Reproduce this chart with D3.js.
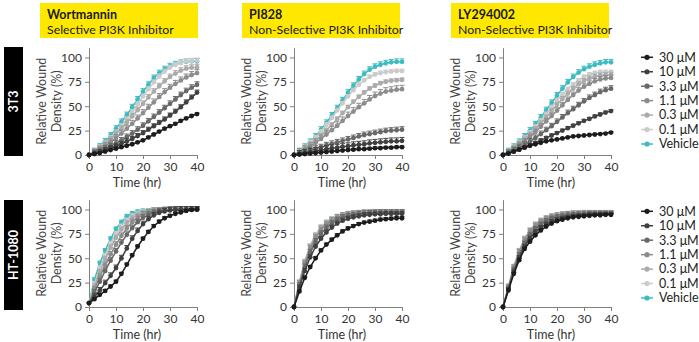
<!DOCTYPE html>
<html>
<head>
<meta charset="utf-8">
<script src="https://cdn.jsdelivr.net/npm/d3@7"></script>
<style>
body { margin: 0; background: #fff; }
svg { display: block; font-family: Lato, "Noto Sans", sans-serif; }
</style>
</head>
<body>
<div id="chart"></div>
<script>
var times = [0,2,4,6,8,10,12,14,16,18,20,22,24,26,28,30,32,34,36,38,40];
var doses = ["30 \u03bcM","10 \u03bcM","3.3 \u03bcM","1.1 \u03bcM","0.3 \u03bcM","0.1 \u03bcM","Vehicle"];
var doseColors = ["#1c1c1c","#404040","#686868","#8c8c8c","#ababab","#cbcbcb","#3cbcbf"];
var drugs = ["Wortmannin","PI828","LY294002"];
var drugClass = ["Selective PI3K Inhibitor","Non-Selective PI3K Inhibitor","Non-Selective PI3K Inhibitor"];
var cellLines = ["3T3","HT-1080"];
var xTicks = [0,10,20,30,40];
var yTicks = [0,25,50,75,100];

// relative wound density (%), one row per dose in legend order
var wort3T3 = [
  [0,1,2,3.5,5,6.5,8,9.5,11,13,15,18,21,24,27,29.5,32,35,37.5,40,42],
  [0,1.5,3,5,7,9,11.5,14,16.5,19.5,22.5,26,29.5,33,36.5,40.5,44.5,49,54,59,64],
  [0,2,4,6.5,9,12,15,18.5,22,26,30,34.5,39,43.5,48,52.5,57,61.5,65.5,69,72],
  [0,2.5,5.5,9,13,17.5,22,27,32,37.5,43,48.5,54,59.5,64.5,69,73,76.5,79.5,82,84],
  [0,3,7,11.5,16,21.5,27,33,39.5,46,52.5,59,65,70.5,75.5,80,83.5,86.5,88.5,89.5,90],
  [0,3.5,8,12.5,17.5,23,29.5,36.5,44,52,60,67.5,74.5,80.5,85.5,89.5,92.5,94.5,96,96.5,97],
  [0,4,9,14,20,27,34,41,49,57,65,72,79,84,88,91,93,94.5,95.5,96,96]
];
var pi828_3T3 = [
  [0,0.5,1,1.5,2,2.5,3,3.5,4,4.5,5,5.5,6,6,6.5,7,7,7.5,7.5,8,8],
  [0,1,2,3,4,5,6,7,7.5,8.5,9,10,10.5,11,12,12.5,13,13.5,14,14,14.5],
  [0,1.5,3,5,6.5,8,10,11.5,13,14.5,16,17.5,19,20.5,21.5,22.5,23.5,24.5,25,25.5,26],
  [0,2.5,5.5,9,12.5,16.5,21,25.5,30,35,40,44.5,49,53,57,60.5,63,65,66,67,67.5],
  [0,3,6.5,10.5,15,20,25.5,31,37,43,49,54.5,59.5,64,68,71,73.5,75,76,76.5,77],
  [0,3.5,8,13,18,24,31,38,45.5,53,60,66.5,72,76.5,80,82.5,84,85,85.5,86,86],
  [0,4,8.5,13.5,19,26,33,40.5,48,56,64,71,77.5,83,87.5,90.5,92.5,94,95,95.5,95.5]
];
var ly_3T3 = [
  [0,1.5,3.5,5.5,7.5,9.5,11,12.5,14,15,16,17,18,19,19.5,20,20.5,21,21.5,22,23],
  [0,1.5,3.5,5.5,8,10,12.5,15,17.5,20,22.5,25,27.5,30,32.5,35,37,39.5,41.5,43.5,45],
  [0,2,4.5,7.5,10.5,14,17.5,21.5,25.5,29.5,34,38.5,43,47,51,55,58.5,61.5,64.5,66.5,68],
  [0,2.5,6,10,14,18.5,23.5,29,34.5,40,45.5,51,56.5,61.5,66,70,73,75.5,77.5,78.5,79],
  [0,3,7,11.5,16,21,26.5,32.5,38.5,45,51.5,57.5,63,68,72.5,76,78.5,80.5,81.5,82,82.5],
  [0,3.5,8,12.5,17.5,23,29,35.5,42,49,56,62,67.5,72.5,76.5,80,82.5,84,85,85,85],
  [0,4,8.5,13.5,19,25,31.5,38.5,46,53.5,61,68,74.5,80,84.5,88,90.5,92.5,94,95,95]
];
var wortHT = [
  [4,8,12.5,16.5,21,26,34,43.5,53,62,70,77,83,87.5,91,93.5,95.5,97,98.5,99.5,100],
  [4,10.5,17,24.5,32,40,50,60,70,78,85,90,94,96.5,98,99,99.5,100,100,100,100],
  [4,15,26,37,47.5,57,66,74,81,87,91.5,94.5,96.5,98,99,99.5,100,100,100,100,100],
  [4,18,31,43,54,64,73,80.5,87,91.5,95,97,98.5,99,99.5,100,100,100,100,100,100],
  [4,21,36,49,61,71,79.5,86,91,94.5,96.5,98,99,99.5,99.5,100,100,100,100,100,100],
  [4,24,40,53,65,75,83,89,93.5,96,97.5,98.5,99,99.5,99.5,100,100,100,100,100,100],
  [4,28,45,58,70,80,87,93,96,97.5,98.5,99,99.5,99.5,100,100,100,100,100,100,100]
];
var pi828HT = [
  [0,16,30,41,50,58,64,69,73.5,77.5,80.5,83,85,86.5,87.5,88.5,89.5,90,90.5,91,91],
  [0,20,37,51,62,70,76.5,81.5,85.5,88.5,90.5,92,93,94,94.5,95,95,95.5,95.5,95.5,95.5],
  [0,22,41,56,67,75,81,85.5,89,91.5,93,94,95,95.5,96,96,96.5,96.5,96.5,96.5,96.5],
  [0,24,44,60,71,79,84.5,88.5,91.5,93.5,95,95.5,96,96.5,96.5,97,97,97,97,97,97],
  [0,25,46,62,73,81,86,89.5,92,94,95,96,96.5,97,97,97,97,97,97,97,97],
  [0,26,47,63,74.5,82,87,90.5,93,94.5,95.5,96,96.5,97,97,97,97,97,97,97,97],
  [0,25,46,62.5,74,82,87,90.5,93,94.5,95.5,96,96.5,96.5,97,97,97,97,97,97,97]
];
var lyHT = [
  [0,17,34,48,59.5,67,73.5,78.5,82.5,85.5,88,89.5,91,92,92.5,93,93.5,94,94,94.5,94.5],
  [0,18,36,50.5,62,70.5,77,81.5,85,87.5,89.5,91,92,93,93.5,94,94.5,94.5,95,95,95],
  [0,19,38,53,65,73.5,80,84.5,88,90.5,92,93,94,94.5,95,95,95.5,95.5,95.5,95.5,95.5],
  [0,20,40,56,68,77,83,87,90,92,93.5,94.5,95,95.5,95.5,96,96,96,96,96,96],
  [0,21,41,57.5,70,78.5,84.5,88.5,91,93,94,95,95.5,96,96,96,96,96,96,96,96],
  [0,21.5,42,58,70.5,79,85,89,91.5,93,94,95,95.5,96,96,96,96,96,96,96,96],
  [0,19,37,51,64,74,81.5,86.5,90,92,93.5,94.5,95,95.5,95.5,96,96,96,96,96,96]
];

// SEM per dose (upper error bar only)
var wort3T3Sem = [1, 2.5, 3, 3.5, 3, 2.5, 3];
var pi828_3T3Sem = [1, 3.5, 3, 4, 2, 2, 3];
var ly_3T3Sem = [0.8, 1.5, 3, 3, 2.5, 2, 3];
var wortHTSem = [1.5, 3, 3, 3, 2.5, 2, 2];
var pi828HTSem = [1.5, 2.5, 3, 3, 2.5, 2, 2];
var lyHTSem = [1.5, 2, 2.5, 3, 2.5, 2, 2];

var panels = [
  { row: 0, col: 0, data: wort3T3, sem: wort3T3Sem },
  { row: 0, col: 1, data: pi828_3T3, sem: pi828_3T3Sem },
  { row: 0, col: 2, data: ly_3T3, sem: ly_3T3Sem },
  { row: 1, col: 0, data: wortHT, sem: wortHTSem },
  { row: 1, col: 1, data: pi828HT, sem: pi828HTSem },
  { row: 1, col: 2, data: lyHT, sem: lyHTSem }
];

var colX = [89, 294, 503];
var rowY = [155, 307];
var plotW = 108, plotH = 107.3;

var svg = d3.select("#chart")
  .append("svg")
  .attr("width", 699)
  .attr("height", 342);

// drug headers
var headX = [40, 242, 451];
drugs.forEach(function(d, i) {
  svg.append("rect")
    .attr("x", headX[i]).attr("y", 3)
    .attr("width", 158).attr("height", 35)
    .style("fill", "#ffe800");
  svg.append("text")
    .attr("x", headX[i] + 7).attr("y", 18.5)
    .style("font-size", "12.5px").style("font-weight", 700)
    .style("fill", "#1a1a1a")
    .text(d);
  svg.append("text")
    .attr("x", headX[i] + 7).attr("y", 33.5)
    .style("font-size", "12.3px")
    .style("fill", "#1a1a1a")
    .text(drugClass[i]);
});

// cell line labels
var sideY = [[47, 156], [200, 310]];
cellLines.forEach(function(d, i) {
  svg.append("rect")
    .attr("x", 4).attr("y", sideY[i][0])
    .attr("width", 19).attr("height", sideY[i][1] - sideY[i][0])
    .style("fill", "#000");
  var cy = (sideY[i][0] + sideY[i][1]) / 2;
  svg.append("text")
    .attr("transform", "translate(14," + cy + ") rotate(-90)")
    .attr("text-anchor", "middle")
    .attr("dy", ".35em")
    .style("font-size", "12.5px").style("font-weight", 700)
    .style("fill", "#fff")
    .text(d);
});

panels.forEach(function(p) {
  var x = d3.scaleLinear().domain([0, 40]).range([colX[p.col], colX[p.col] + plotW]);
  var y = d3.scaleLinear().domain([0, 110]).range([rowY[p.row], rowY[p.row] - plotH]);
  var g = svg.append("g");

  var xa = g.append("g")
    .attr("transform", "translate(0," + rowY[p.row] + ")")
    .call(d3.axisBottom(x).tickValues(xTicks).tickSize(4).tickSizeOuter(0));
  var ya = g.append("g")
    .attr("transform", "translate(" + colX[p.col] + ",0)")
    .call(d3.axisLeft(y).tickValues(yTicks).tickSize(4).tickSizeOuter(0));
  [xa, ya].forEach(function(a) {
    a.attr("font-family", null).attr("font-size", null);
    a.selectAll("path, line").style("stroke", "#808080");
    a.selectAll("text").style("font-size", "12px").style("fill", "#333");
  });

  // axis titles
  var midY = (rowY[p.row] + rowY[p.row] - plotH) / 2;
  [["Relative Wound", 47], ["Density (%)", 32]].forEach(function(t) {
    g.append("text")
      .attr("transform", "translate(" + (colX[p.col] - t[1]) + "," + midY + ") rotate(-90)")
      .attr("text-anchor", "middle")
      .attr("dy", ".35em")
      .style("font-size", "12.5px").style("fill", "#444")
      .text(t[0]);
  });
  g.append("text")
    .attr("x", colX[p.col] + 48)
    .attr("y", rowY[p.row] + 28)
    .attr("text-anchor", "middle")
    .attr("dy", ".35em")
    .style("font-size", "12.5px").style("fill", "#333")
    .text("Time (hr)");

  var line = d3.line()
    .x(function(d, i) { return x(times[i]); })
    .y(function(d) { return y(d); });

  // vehicle first, highest dose on top
  d3.range(doses.length - 1, -1, -1).forEach(function(k) {
    var vals = p.data[k];
    var col = doseColors[k];
    var s = g.append("g");
    var err = s.selectAll(".err")
      .data(vals.filter(function(d, i) { return times[i] > 0; }).map(function(d, i) {
        return { t: times[i + 1], v: d, e: p.sem[k] };
      }))
      .enter().append("g");
    err.append("line")
      .attr("x1", function(d) { return x(d.t); })
      .attr("x2", function(d) { return x(d.t); })
      .attr("y1", function(d) { return y(d.v); })
      .attr("y2", function(d) { return y(d.v + d.e); })
      .style("stroke", col).style("stroke-width", 1);
    err.append("line")
      .attr("x1", function(d) { return x(d.t) - 2.5; })
      .attr("x2", function(d) { return x(d.t) + 2.5; })
      .attr("y1", function(d) { return y(d.v + d.e); })
      .attr("y2", function(d) { return y(d.v + d.e); })
      .style("stroke", col).style("stroke-width", 1);
    s.append("path")
      .datum(vals)
      .attr("d", line)
      .style("fill", "none")
      .style("stroke", col)
      .style("stroke-width", 1.5);
    s.selectAll("circle")
      .data(vals)
      .enter().append("circle")
      .attr("cx", function(d, i) { return x(times[i]); })
      .attr("cy", function(d) { return y(d); })
      .attr("r", 2.4)
      .style("fill", col);
  });
});

// legends
var legendTop = [57.3, 211.3];
legendTop.forEach(function(top) {
  var lg = svg.selectAll(null)
    .data(doses)
    .enter().append("g")
    .attr("transform", function(d, i) {
      return "translate(647," + (top + i * 14.45) + ")";
    });
  lg.append("line")
    .attr("x1", -6).attr("x2", 6)
    .style("stroke", function(d, i) { return doseColors[i]; })
    .style("stroke-width", 1.5);
  lg.append("circle")
    .attr("r", 2.6)
    .style("fill", function(d, i) { return doseColors[i]; });
  lg.append("text")
    .attr("x", 12)
    .attr("dy", ".35em")
    .style("font-size", "12.5px")
    .style("fill", "#222")
    .text(function(d) { return d; });
});
</script>
</body>
</html>
